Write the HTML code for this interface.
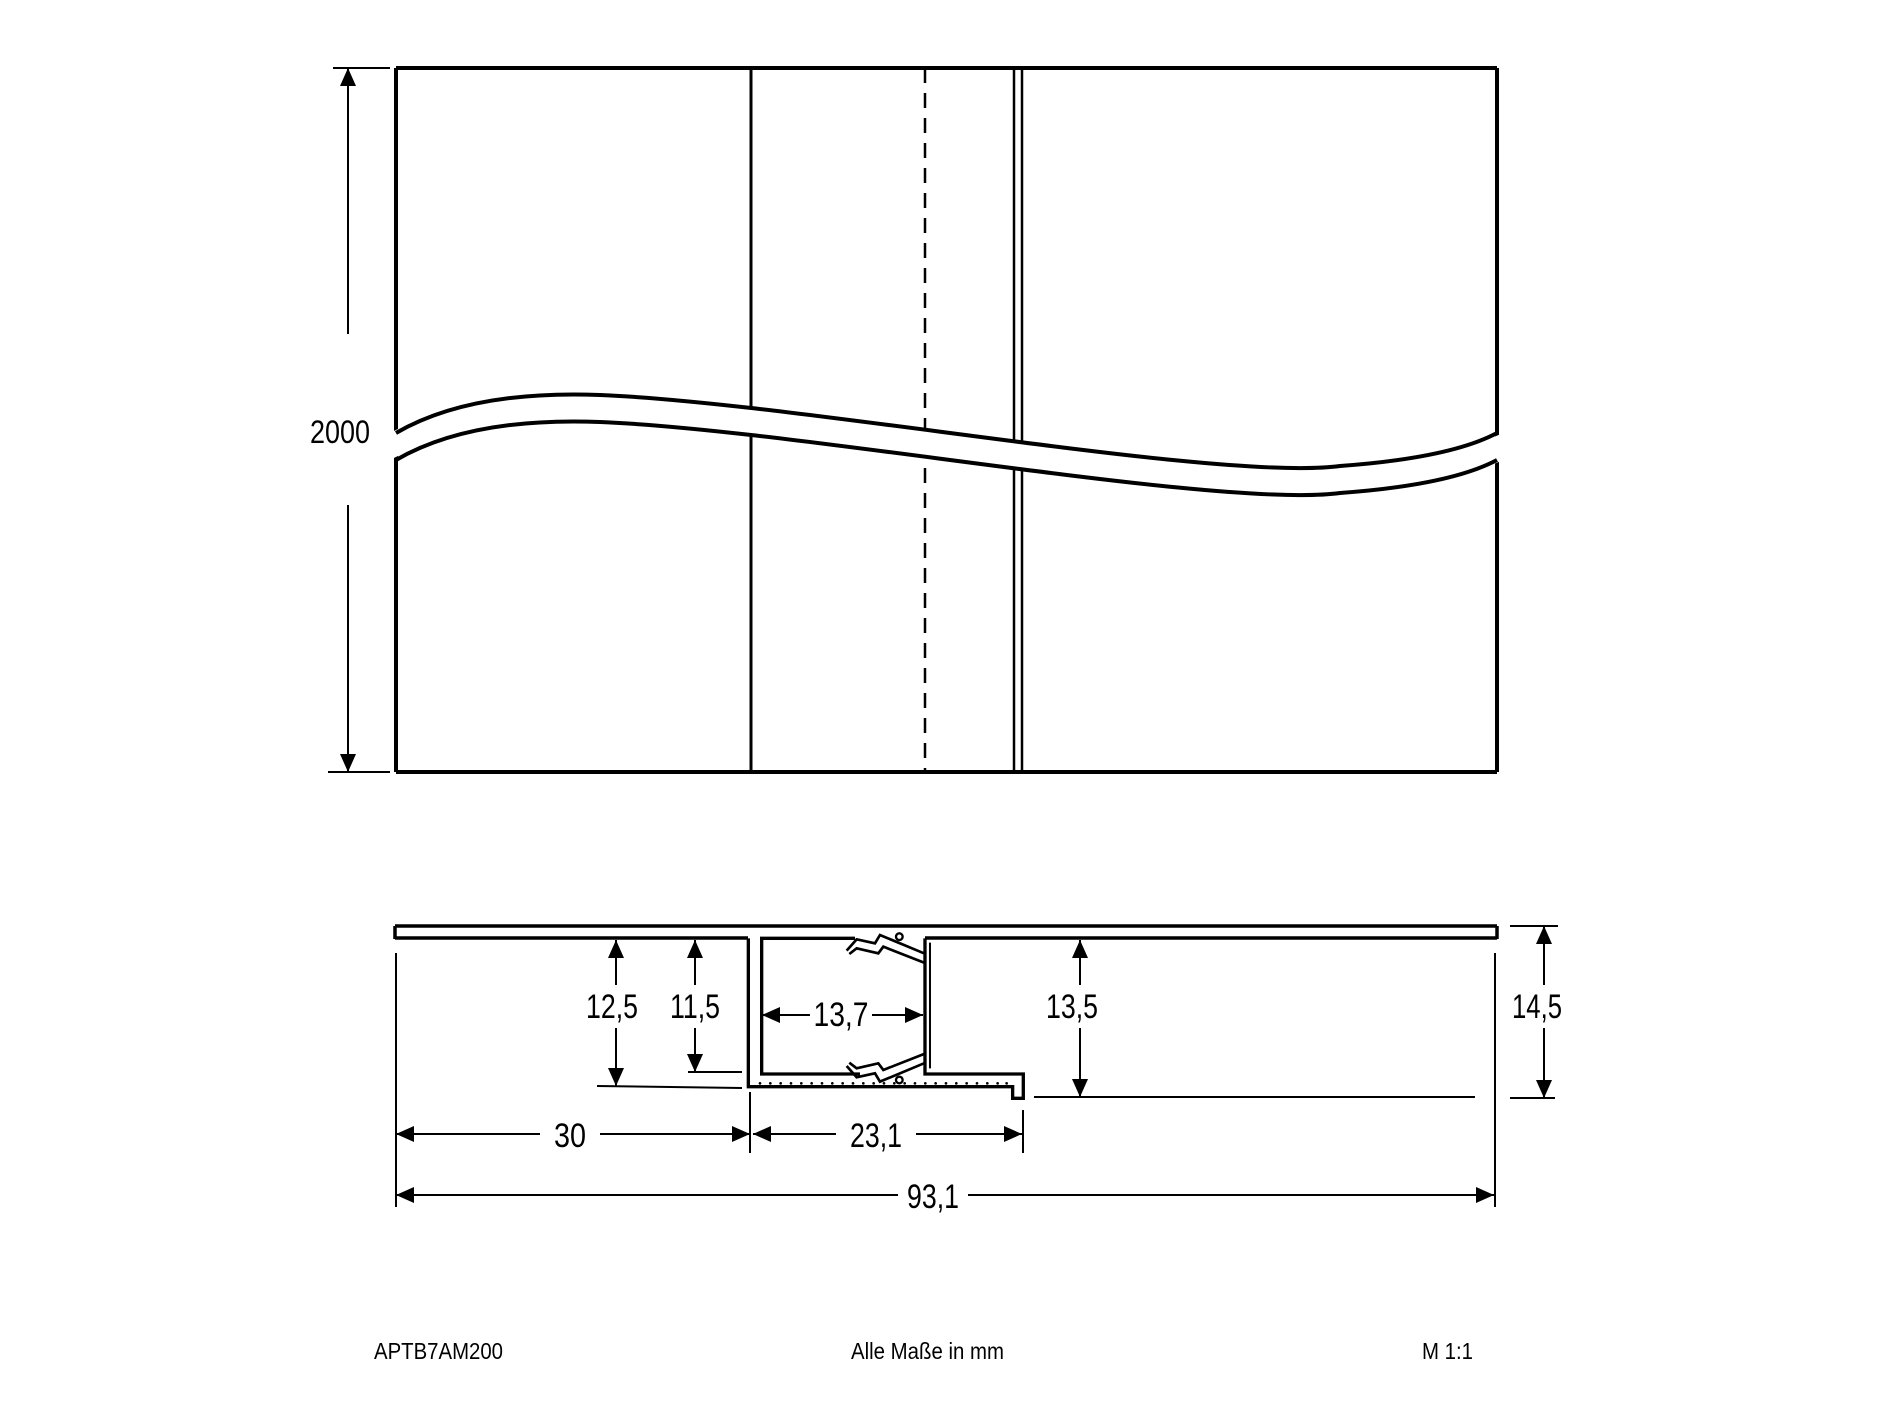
<!DOCTYPE html>
<html><head><meta charset="utf-8"><style>html,body{margin:0;padding:0;background:#fff}svg{display:block}</style></head><body>
<svg width="1892" height="1419" viewBox="0 0 1892 1419" xmlns="http://www.w3.org/2000/svg" font-family="'Liberation Sans Narrow','Liberation Sans',sans-serif">
<rect width="1892" height="1419" fill="#fff"/>
<g stroke="#000" fill="none">
<line x1="396" y1="68" x2="1497" y2="68" stroke-width="4"/>
<line x1="396" y1="772" x2="1497" y2="772" stroke-width="4"/>
<line x1="396" y1="68" x2="396" y2="772" stroke-width="4"/>
<line x1="1497" y1="68" x2="1497" y2="772" stroke-width="4"/>
<line x1="751" y1="68" x2="751" y2="772" stroke-width="3"/>
<line x1="925" y1="68" x2="925" y2="772" stroke-width="2.5" stroke-dasharray="15 10"/>
<line x1="1014" y1="68" x2="1014" y2="772" stroke-width="2.5"/>
<line x1="1022" y1="68" x2="1022" y2="772" stroke-width="2.5"/>
</g>
<path d="M390,433 Q470,390 600,395 C800,403 1220,482 1340,466 Q1450,458 1503,433 L1503,460 Q1450,485 1340,493 C1220,509 800,430 600,422 Q470,417 390,460 Z" fill="#fff"/>
<g stroke="#000" fill="none" stroke-width="4">
<path d="M396,433 Q470,390 600,395 C800,403 1220,482 1340,466 Q1450,458 1497,433"/>
<path d="M396,460 Q470,417 600,422 C800,430 1220,509 1340,493 Q1450,485 1497,460"/>
</g>
<g stroke="#000" stroke-width="2">
<line x1="333" y1="68" x2="390" y2="68"/><line x1="328" y1="772" x2="390" y2="772"/>
<line x1="348" y1="68" x2="348" y2="334"/><line x1="348" y1="505" x2="348" y2="772"/>
</g>
<polygon points="348,68 340,86 356,86"/><polygon points="348,772 340,754 356,754"/>
<text x="310" y="443" font-size="32" textLength="60" lengthAdjust="spacingAndGlyphs">2000</text>

<g stroke="#000" fill="none" stroke-width="3.5">
<line x1="395" y1="926" x2="1497" y2="926"/>
<line x1="395" y1="926" x2="395" y2="939"/><line x1="1497" y1="926" x2="1497" y2="939"/>
<line x1="395" y1="938" x2="748" y2="938"/>
<line x1="925" y1="938" x2="1497" y2="938"/>
</g>
<g transform="translate(740,920) scale(0.3333)" stroke="#000" fill="none" stroke-width="10">
<path d="M25,55 V500 H818 V535 H850 V462 H555 V55"/>
<path d="M345,55 H65 V462 H360"/>
<line x1="570" y1="68" x2="570" y2="445" stroke-width="6"/>
<g>
<path d="M552,100 L420,45 L405,70 L350,58 L320,92" stroke-width="8"/>
<path d="M552,128 L430,80 L415,100 L350,85 L328,102" stroke-width="8"/>
<circle cx="478" cy="50" r="10" stroke-width="7"/>
</g>
<g transform="translate(0,530) scale(1,-1)">
<path d="M552,100 L420,45 L405,70 L350,58 L320,92" stroke-width="8"/>
<path d="M552,128 L430,80 L415,100 L350,85 L328,102" stroke-width="8"/>
<circle cx="478" cy="50" r="10" stroke-width="7"/>
</g>
<g fill="#000" stroke="none">
<circle cx="60" cy="490" r="4"/><circle cx="91" cy="490" r="4"/><circle cx="122" cy="490" r="4"/><circle cx="153" cy="490" r="4"/><circle cx="184" cy="490" r="4"/><circle cx="215" cy="490" r="4"/><circle cx="246" cy="490" r="4"/><circle cx="277" cy="490" r="4"/><circle cx="308" cy="490" r="4"/><circle cx="339" cy="490" r="4"/><circle cx="370" cy="490" r="4"/><circle cx="401" cy="490" r="4"/><circle cx="432" cy="490" r="4"/><circle cx="463" cy="490" r="4"/><circle cx="494" cy="490" r="4"/><circle cx="525" cy="490" r="4"/><circle cx="556" cy="490" r="4"/><circle cx="587" cy="490" r="4"/><circle cx="618" cy="490" r="4"/><circle cx="649" cy="490" r="4"/><circle cx="680" cy="490" r="4"/><circle cx="711" cy="490" r="4"/><circle cx="742" cy="490" r="4"/><circle cx="773" cy="490" r="4"/><circle cx="800" cy="490" r="4"/>
</g>
</g>

<g stroke="#000" stroke-width="2" fill="none">
<line x1="396" y1="953" x2="396" y2="1207"/>
<line x1="1495" y1="953" x2="1495" y2="1207"/>
<line x1="750" y1="1092" x2="750" y2="1153"/>
<line x1="1023" y1="1110" x2="1023" y2="1153"/>
<line x1="597" y1="1086" x2="742" y2="1088"/>
<line x1="688" y1="1072" x2="742" y2="1072"/>
<line x1="1034" y1="1097" x2="1475" y2="1097"/>
<line x1="1510" y1="926" x2="1558" y2="926"/>
<line x1="1510" y1="1098" x2="1555" y2="1098"/>
<line x1="616" y1="940" x2="616" y2="985"/><line x1="616" y1="1028" x2="616" y2="1086"/>
<line x1="695" y1="940" x2="695" y2="985"/><line x1="695" y1="1028" x2="695" y2="1072"/>
<line x1="1080" y1="940" x2="1080" y2="985"/><line x1="1080" y1="1028" x2="1080" y2="1097"/>
<line x1="1544" y1="926" x2="1544" y2="985"/><line x1="1544" y1="1028" x2="1544" y2="1098"/>
<line x1="396" y1="1134" x2="540" y2="1134"/><line x1="600" y1="1134" x2="750" y2="1134"/>
<line x1="753" y1="1134" x2="836" y2="1134"/><line x1="916" y1="1134" x2="1022" y2="1134"/>
<line x1="396" y1="1195" x2="898" y2="1195"/><line x1="968" y1="1195" x2="1494" y2="1195"/>
<line x1="762" y1="1015" x2="810" y2="1015"/><line x1="872" y1="1015" x2="923" y2="1015"/>
</g>
<g fill="#000">
<polygon points="616,940 608,958 624,958"/><polygon points="616,1086 608,1068 624,1068"/>
<polygon points="695,940 687,958 703,958"/><polygon points="695,1072 687,1054 703,1054"/>
<polygon points="1080,940 1072,958 1088,958"/><polygon points="1080,1097 1072,1079 1088,1079"/>
<polygon points="1544,926 1536,944 1552,944"/><polygon points="1544,1098 1536,1080 1552,1080"/>
<polygon points="396,1134 414,1126 414,1142"/><polygon points="750,1134 732,1126 732,1142"/>
<polygon points="753,1134 771,1126 771,1142"/><polygon points="1022,1134 1004,1126 1004,1142"/>
<polygon points="396,1195 414,1187 414,1203"/><polygon points="1494,1195 1476,1187 1476,1203"/>
<polygon points="762,1015 780,1007 780,1023"/><polygon points="923,1015 905,1007 905,1023"/>
</g>
<g font-size="34" fill="#000" text-anchor="middle">
<text x="612" y="1018" textLength="52" lengthAdjust="spacingAndGlyphs">12,5</text>
<text x="695" y="1018" textLength="50" lengthAdjust="spacingAndGlyphs">11,5</text>
<text x="1072" y="1018" textLength="52" lengthAdjust="spacingAndGlyphs">13,5</text>
<text x="1537" y="1018" textLength="50" lengthAdjust="spacingAndGlyphs">14,5</text>
<text x="841" y="1026" textLength="55" lengthAdjust="spacingAndGlyphs">13,7</text>
<text x="570" y="1147" textLength="32" lengthAdjust="spacingAndGlyphs">30</text>
<text x="876" y="1147" textLength="52" lengthAdjust="spacingAndGlyphs">23,1</text>
<text x="933" y="1208" textLength="52" lengthAdjust="spacingAndGlyphs">93,1</text>
</g>
<g font-size="23" fill="#000">
<text x="374" y="1359" textLength="129" lengthAdjust="spacingAndGlyphs">APTB7AM200</text>
<text x="851" y="1359" textLength="153" lengthAdjust="spacingAndGlyphs">Alle Maße in mm</text>
<text x="1422" y="1359" textLength="51" lengthAdjust="spacingAndGlyphs">M 1:1</text>
</g>
</svg>
</body></html>
